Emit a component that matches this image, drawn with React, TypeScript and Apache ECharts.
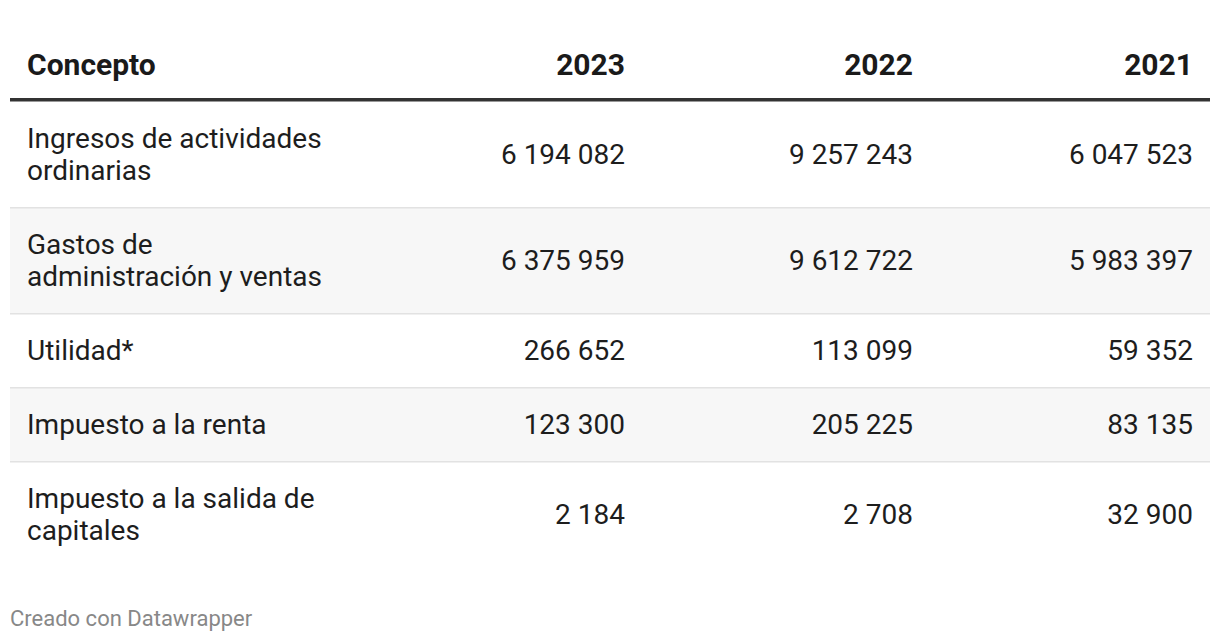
import React, { useEffect, useRef } from "react";
import * as echarts from "echarts";

const headers = ["Concepto", "2023", "2022", "2021"];
const concepts = [
  "Ingresos de actividades\nordinarias",
  "Gastos de\nadministración y ventas",
  "Utilidad*",
  "Impuesto a la renta",
  "Impuesto a la salida de\ncapitales",
];
const values2023 = [6194082, 6375959, 266652, 123300, 2184];
const values2022 = [9257243, 9612722, 113099, 205225, 2708];
const values2021 = [6047523, 5983397, 59352, 83135, 32900];
const footer = "Creado con Datawrapper";

const fmt = (n: number) => String(n).replace(/\B(?=(\d{3})+(?!\d))/g, " ");

export default function App() {
  const ref = useRef<HTMLDivElement>(null);
  useEffect(() => {
    if (!ref.current) return;
    const chart = echarts.init(ref.current, null, { renderer: "svg" });
    const left = 10;
    const right = 1210;
    const textLeft = 27;
    const colRight = [625, 913, 1193];
    const font = "Roboto, sans-serif";
    const lineH = 32;
    const elements: any[] = [];

    // header
    elements.push({
      type: "text",
      style: { text: headers[0], x: textLeft, y: 64, textAlign: "left", textVerticalAlign: "middle", font: `bold 30px ${font}`, fill: "#1a1a1a" },
    });
    [1, 2, 3].forEach((i) => {
      elements.push({
        type: "text",
        style: { text: headers[i], x: colRight[i - 1], y: 64, textAlign: "right", textVerticalAlign: "middle", font: `bold 30px ${font}`, fill: "#1a1a1a" },
      });
    });
    elements.push({ type: "rect", shape: { x: left, y: 98, width: right - left, height: 3.5 }, style: { fill: "#333333" } });

    const cols = [values2023, values2022, values2021];
    let y = 101.5;
    concepts.forEach((c, r) => {
      const lines = c.split("\n").length;
      const h = 42 + lines * lineH;
      if (r % 2 === 1) {
        elements.push({ type: "rect", shape: { x: left, y, width: right - left, height: h }, style: { fill: "#f7f7f7" } });
      }
      if (r > 0) {
        elements.push({ type: "rect", shape: { x: left, y: y - 0.5, width: right - left, height: 1.5 }, style: { fill: "#e2e2e2" } });
      }
      const cy = y + h / 2;
      elements.push({
        type: "text",
        style: { text: c, x: textLeft, y: cy, textAlign: "left", textVerticalAlign: "middle", font: `28px ${font}`, lineHeight: lineH, fill: "#1d1d1d" },
      });
      cols.forEach((vals, ci) => {
        elements.push({
          type: "text",
          style: { text: fmt(vals[r]), x: colRight[ci], y: cy, textAlign: "right", textVerticalAlign: "middle", font: `28px ${font}`, fill: "#1d1d1d" },
        });
      });
      y += h;
    });

    elements.push({
      type: "text",
      style: { text: footer, x: left, y: 618, textAlign: "left", textVerticalAlign: "middle", font: `22px ${font}`, fill: "#888888" },
    });

    chart.setOption({ animation: false, backgroundColor: "#ffffff", graphic: { elements } });
    return () => chart.dispose();
  }, []);
  return <div ref={ref} style={{ position: "fixed", left: 0, top: 0, width: 1220, height: 642 }} />;
}
